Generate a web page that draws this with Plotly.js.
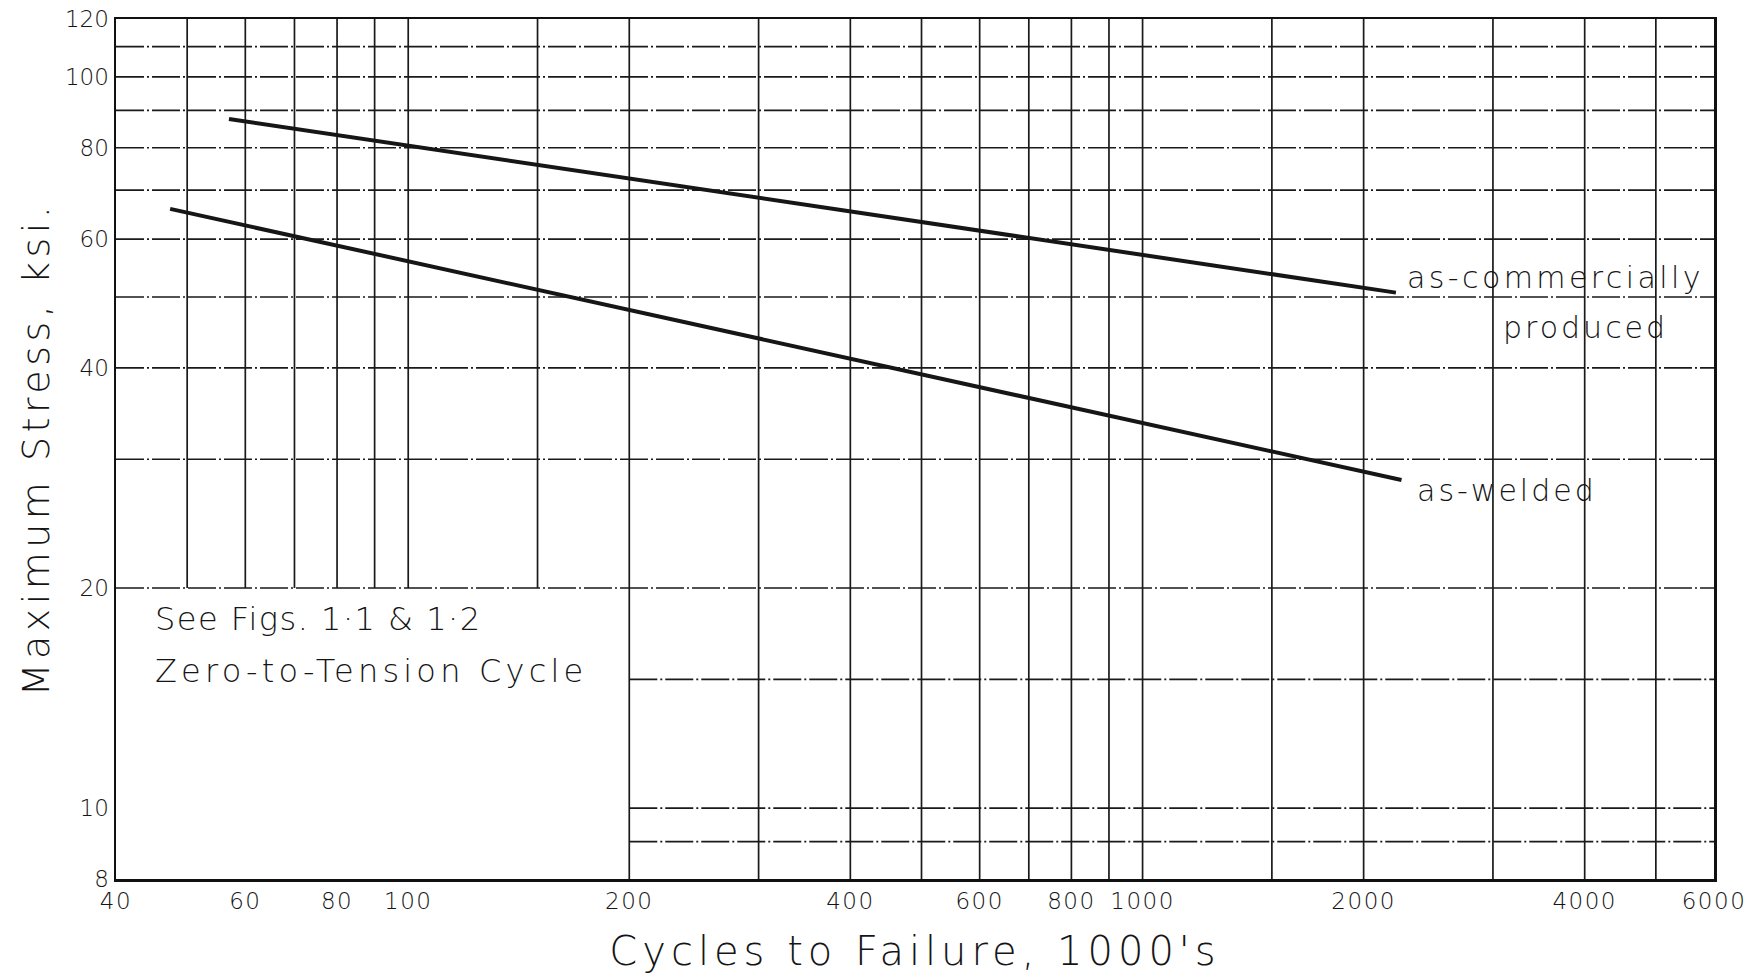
<!DOCTYPE html>
<html>
<head>
<meta charset="utf-8">
<script src="https://cdn.plot.ly/plotly-3.0.1.min.js"></script>
<style>
  html, body { margin: 0; padding: 0; background: #ffffff; }
  #chart { width: 1754px; height: 978px; }
  .xtitle { letter-spacing: 5px; }
  .ytitle { letter-spacing: 4.5px; }
  .annotation-text { letter-spacing: 3px; }
  .annotation[data-index="0"] .annotation-text { letter-spacing: 1.5px; }
  .annotation[data-index="1"] .annotation-text { letter-spacing: 4.2px; }
  .annotation[data-index="2"] .annotation-text { letter-spacing: 3.4px; }
  .xtick text { letter-spacing: 1.5px; }
</style>
</head>
<body>
<div id="chart"></div>
<script>
// ---- data ----
const commercialCycles = [57, 2213];      // thousands of cycles
const commercialStress = [87.6, 50.7];    // ksi
const weldedCycles = [47.4, 2252];
const weldedStress = [66.0, 28.1];

// tick labels
const xTickVals = [40, 60, 80, 100, 200, 400, 600, 800, 1000, 2000, 4000, 6000];
const yTickVals = [8, 10, 20, 40, 60, 80, 100, 120];

// grid of the log paper
const xGridUpper = [50, 60, 70, 80, 90, 100, 150];          // stop at 20 ksi
const xGridFull = [200, 300, 400, 500, 600, 700, 800, 900, 1000, 1500, 2000, 3000, 4000, 5000];
const yGridFull = [20, 30, 40, 50, 60, 70, 80, 90, 100, 110];
const yGridRight = [9, 10, 15];                              // start at 200

const xMin = 40, xMax = 6000, yMin = 8, yMax = 120;
const xSplit = 200, ySplit = 20;

function vLines(vals, y0, y1) {
  const x = [], y = [];
  vals.forEach(v => { x.push(v, v, null); y.push(y0, y1, null); });
  return {x, y};
}
function hLines(vals, x0, x1) {
  const x = [], y = [];
  vals.forEach(v => { x.push(x0, x1, null); y.push(v, v, null); });
  return {x, y};
}

const gridColor = '#1a1a1a';
const vu = vLines(xGridUpper, ySplit, yMax);
const vf = vLines(xGridFull, yMin, yMax);
const hf = hLines(yGridFull, xMin, xMax);
const hr = hLines(yGridRight, xSplit, xMax);

const traces = [
  {x: vu.x, y: vu.y, mode: 'lines', line: {color: gridColor, width: 1.7}, hoverinfo: 'skip', connectgaps: false},
  {x: vf.x, y: vf.y, mode: 'lines', line: {color: gridColor, width: 1.7}, hoverinfo: 'skip', connectgaps: false},
  {x: hf.x, y: hf.y, mode: 'lines', line: {color: gridColor, width: 1.7, dash: '28px,3px,2px,3px'}, hoverinfo: 'skip', connectgaps: false},
  {x: hr.x, y: hr.y, mode: 'lines', line: {color: gridColor, width: 1.7, dash: '28px,3px,2px,3px'}, hoverinfo: 'skip', connectgaps: false},
  {x: commercialCycles, y: commercialStress, mode: 'lines', name: 'as-commercially produced',
   line: {color: '#161616', width: 4}},
  {x: weldedCycles, y: weldedStress, mode: 'lines', name: 'as-welded',
   line: {color: '#161616', width: 4}}
];

const fontFam = '"DejaVu Sans", "Liberation Sans", sans-serif';
const txt = '#151515';

const layout = {
  width: 1754, height: 978,
  paper_bgcolor: '#ffffff', plot_bgcolor: '#ffffff',
  showlegend: false,
  margin: {l: 116, r: 40, t: 19, b: 99},
  font: {family: fontFam, color: txt, weight: 200},
  xaxis: {
    type: 'log', range: [Math.log10(xMin), Math.log10(xMax)],
    tickvals: xTickVals, ticktext: xTickVals.map(String),
    tickfont: {size: 23, color: txt, family: fontFam, weight: 200},
    showgrid: false, zeroline: false, ticks: '',
    showline: true, mirror: true, linecolor: '#111', linewidth: 2.5,
    title: {text: "Cycles to Failure, 1000's", font: {size: 40, color: txt, family: fontFam, weight: 200}, standoff: 24}
  },
  yaxis: {
    type: 'log', range: [Math.log10(yMin), Math.log10(yMax)],
    tickvals: yTickVals, ticktext: yTickVals.map(String),
    tickfont: {size: 23, color: txt, family: fontFam, weight: 200},
    showgrid: false, zeroline: false, ticks: '',
    showline: true, mirror: true, linecolor: '#111', linewidth: 2.5,
    title: {text: 'Maximum Stress, ksi.', font: {size: 38, color: txt, family: fontFam, weight: 200}, standoff: 4}
  },
  annotations: [
    {text: 'See Figs. 1·1 &amp; 1·2', xref: 'paper', yref: 'paper', x: 0.0232, y: 0.3023,
     xanchor: 'left', yanchor: 'middle', align: 'left', showarrow: false,
     font: {size: 32, color: txt, family: fontFam, weight: 200}},
    {text: 'Zero-to-Tension Cycle', xref: 'paper', yref: 'paper', x: 0.0232, y: 0.2419,
     xanchor: 'left', yanchor: 'middle', align: 'left', showarrow: false,
     font: {size: 32, color: txt, family: fontFam, weight: 200}},
    {text: 'as-commercially', xref: 'paper', yref: 'paper', x: 0.8066, y: 0.6995,
     xanchor: 'left', yanchor: 'middle', align: 'left', showarrow: false,
     font: {size: 30, color: txt, family: fontFam, weight: 200}},
    {text: 'produced', xref: 'paper', yref: 'paper', x: 0.8667, y: 0.641,
     xanchor: 'left', yanchor: 'middle', align: 'left', showarrow: false,
     font: {size: 30, color: txt, family: fontFam, weight: 200}},
    {text: 'as-welded', xref: 'paper', yref: 'paper', x: 0.8129, y: 0.4523,
     xanchor: 'left', yanchor: 'middle', align: 'left', showarrow: false,
     font: {size: 30, color: txt, family: fontFam, weight: 200}}
  ]
};

Plotly.newPlot('chart', traces, layout, {displayModeBar: false, staticPlot: true});
</script>
</body>
</html>
